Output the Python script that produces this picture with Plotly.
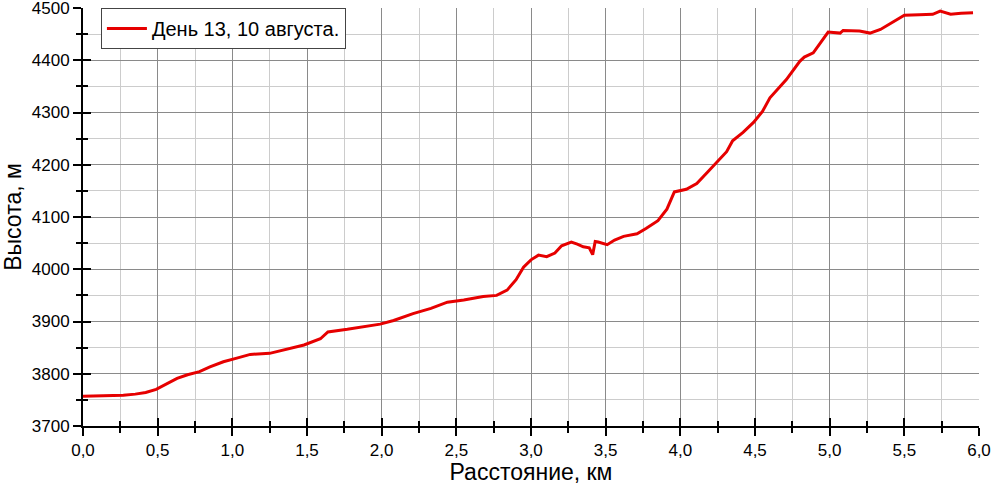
import plotly.graph_objects as go

# distance along the route, km
distance_km = [0.0, 0.1, 0.2, 0.27, 0.35, 0.42, 0.49, 0.55, 0.63, 0.70, 0.78, 0.85,
               0.94, 1.03, 1.12, 1.25, 1.36, 1.48, 1.59, 1.64, 1.77, 1.88, 1.99, 2.08,
               2.21, 2.33, 2.44, 2.55, 2.68, 2.77, 2.84, 2.90, 2.95, 3.00, 3.05, 3.105,
               3.16, 3.205, 3.27, 3.31, 3.35, 3.39, 3.413, 3.43, 3.45, 3.51, 3.56, 3.62,
               3.71, 3.77, 3.85, 3.91, 3.96, 4.04, 4.11, 4.18, 4.25, 4.31, 4.35, 4.42,
               4.49, 4.55, 4.60, 4.71, 4.80, 4.83, 4.89, 4.94, 4.99, 5.07, 5.09, 5.20,
               5.27, 5.34, 5.43, 5.50, 5.60, 5.69, 5.74, 5.81, 5.88, 5.96]

# elevation, m
elevation_m = [3757, 3758, 3758, 3759, 3761, 3764, 3770, 3779, 3791, 3798, 3804, 3813,
               3823, 3830, 3837, 3839, 3847, 3855, 3867, 3880, 3885, 3890, 3895, 3902,
               3915, 3925, 3937, 3941, 3948, 3950, 3960, 3980, 4004, 4018, 4027, 4024,
               4031, 4045, 4052, 4048, 4043, 4041, 4028, 4053, 4052, 4047, 4056, 4063,
               4068, 4078, 4093, 4115, 4148, 4153, 4164, 4185, 4206, 4225, 4246, 4262,
               4281, 4302, 4328, 4363, 4398, 4406, 4414, 4435, 4454, 4452, 4457, 4456,
               4452, 4459, 4474, 4486, 4487, 4488, 4494, 4488, 4490, 4491]

series_name = "День 13, 10 августа."

fnt = "Arial, Liberation Sans, sans-serif"

fig = go.Figure()
fig.add_trace(go.Scatter(x=distance_km, y=elevation_m, mode="lines", name=series_name,
                         line=dict(color="#e60000", width=3)))
# invisible trace so the overlay axes get drawn (inside half of the ticks)
fig.add_trace(go.Scatter(x=[0], y=[3700], xaxis="x2", yaxis="y2", mode="markers",
                         marker=dict(opacity=0), showlegend=False, hoverinfo="skip"))

axis_common = dict(showline=True, linecolor="black", linewidth=2, mirror=False,
                   ticks="outside", tickcolor="black", tickwidth=2, ticklen=8,
                   zeroline=False, gridcolor="#8a8a8a", gridwidth=1,
                   ticklabeloverflow="allow", automargin=False,
                   tickfont=dict(family=fnt, size=17, color="black"))

fig.update_layout(
    width=992, height=485,
    margin=dict(l=83, r=13, t=8, b=59),
    paper_bgcolor="white", plot_bgcolor="white",
    separators=", ",
    font=dict(family=fnt, color="black"),
    xaxis=dict(range=[0, 6], dtick=0.5, tickformat=".1f",
               minor=dict(dtick=0.25, ticks="outside", ticklen=5, tickwidth=1.5,
                          tickcolor="black", showgrid=True, gridcolor="#cccccc", gridwidth=1),
               title=dict(text="Расстояние, км", font=dict(family=fnt, size=23), standoff=0),
               **axis_common),
    yaxis=dict(range=[3700, 4500], dtick=100,
               minor=dict(dtick=50, ticks="outside", ticklen=5, tickwidth=1.5,
                          tickcolor="black", showgrid=True, gridcolor="#cccccc", gridwidth=1),
               title=dict(text="Высота, м", font=dict(family=fnt, size=23), standoff=4),
               **axis_common),
    xaxis2=dict(range=[0, 6], dtick=0.5, overlaying="x", anchor="y", side="bottom",
                ticks="inside", ticklen=8, tickwidth=2, tickcolor="black",
                minor=dict(dtick=0.25, ticks="inside", ticklen=5, tickwidth=1.5, tickcolor="black"),
                showticklabels=False, showgrid=False, zeroline=False, showline=False),
    yaxis2=dict(range=[3700, 4500], dtick=100, overlaying="y", anchor="x", side="left",
                ticks="inside", ticklen=8, tickwidth=2, tickcolor="black",
                minor=dict(dtick=50, ticks="inside", ticklen=5, tickwidth=1.5, tickcolor="black"),
                showticklabels=False, showgrid=False, zeroline=False, showline=False),
    legend=dict(x=0.02, y=1.0, xanchor="left", yanchor="top",
                bgcolor="white", bordercolor="#444444", borderwidth=1,
                font=dict(family=fnt, size=20, color="black"),
                itemwidth=40, tracegroupgap=0),
    showlegend=True,
)

# page body has a default 8px margin that shifts the figure; remove it
fig.write_html("out.html", config={"displayModeBar": False},
               post_script="document.body.style.margin='0px';")
